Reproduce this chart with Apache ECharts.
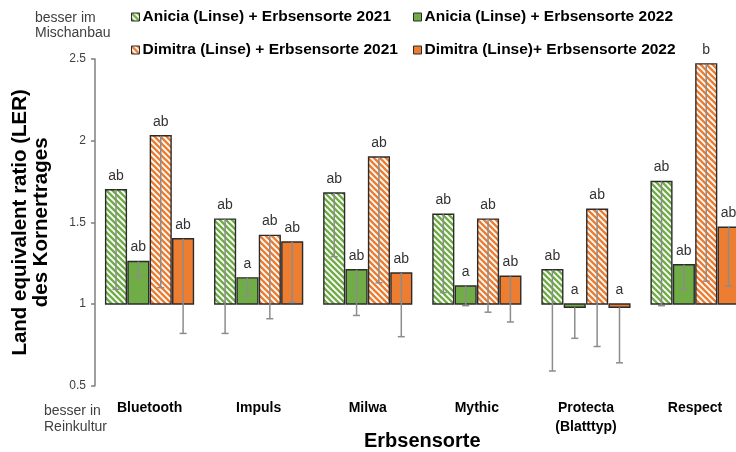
<!DOCTYPE html>
<html><head><meta charset="utf-8">
<script src="https://cdn.jsdelivr.net/npm/echarts@6/dist/echarts.min.js"></script>
<style>html,body{margin:0;padding:0;background:#fff}#c{width:736px;height:452px}</style>
</head><body><div id="c"></div>
<script>
const categories = ['Bluetooth','Impuls','Milwa','Mythic','Protecta\n(Blatttyp)','Respect'];
const seriesNames = ['Anicia (Linse) + Erbsensorte 2021','Anicia (Linse) + Erbsensorte 2022','Dimitra (Linse) + Erbsensorte 2021','Dimitra (Linse)+ Erbsensorte 2022'];
const aniciaLER2021 = [1.70, 1.52, 1.68, 1.55, 1.21, 1.75];
const aniciaLow2021 = [1.09, 0.82, 1.29, 1.07, 0.59, 0.99];
const aniciaSig2021 = ['ab','ab','ab','ab','ab','ab'];
const aniciaLER2022 = [1.26, 1.16, 1.21, 1.11, 0.98, 1.24];
const aniciaLow2022 = [1.17, 1.05, 0.93, 0.99, 0.79, 1.09];
const aniciaSig2022 = ['ab','a','ab','a','a','ab'];
const dimitraLER2021 = [2.03, 1.42, 1.90, 1.52, 1.58, 2.47];
const dimitraLow2021 = [1.10, 0.91, 1.13, 0.95, 0.74, 1.14];
const dimitraSig2021 = ['ab','ab','ab','ab','ab','b'];
const dimitraLER2022 = [1.40, 1.38, 1.19, 1.17, 0.98, 1.47];
const dimitraLow2022 = [0.82, 1.01, 0.80, 0.89, 0.64, 1.11];
const dimitraSig2022 = ['ab','ab','ab','ab','a','ab'];
const yMin = 0.5, yMax = 2.5, yStep = 0.5, baseValue = 1;

const GREEN = '#70AD47', ORANGE = '#ED7D31', BORDER = '#2b2b2b', ERR = '#8c8c8c';

function stripes(color){
  const s = 6, c = document.createElement('canvas');
  c.width = s; c.height = s;
  const g = c.getContext('2d');
  g.fillStyle = '#fff'; g.fillRect(0,0,s,s);
  g.strokeStyle = color; g.lineWidth = 2.4; g.beginPath();
  g.moveTo(-2,-2); g.lineTo(s+2,s+2);
  g.moveTo(-2,s-2); g.lineTo(2,s+2);
  g.moveTo(s-2,-2); g.lineTo(s+2,2);
  g.stroke();
  return {image: c, repeat: 'repeat'};
}
const fills = [stripes(GREEN), GREEN, stripes(ORANGE), ORANGE];
const values = [aniciaLER2021, aniciaLER2022, dimitraLER2021, dimitraLER2022];
const lows = [aniciaLow2021, aniciaLow2022, dimitraLow2021, dimitraLow2022];
const sigs = [aniciaSig2021, aniciaSig2022, dimitraSig2021, dimitraSig2022];

function makeSeries(idx){
  return {
    type: 'custom', name: seriesNames[idx],
    itemStyle: {color: fills[idx], borderColor: BORDER},
    data: values[idx].map((v,i)=>[i, v, lows[idx][i]]),
    encode: {x: 0, y: 1},
    renderItem(params, api){
      const cat = api.value(0), v = api.value(1), lo = api.value(2);
      const bandW = api.size([1,0])[0];
      const barW = bandW*0.19, step = bandW*0.205;
      const base = api.coord([cat, baseValue]);
      const cx = base[0] + (idx-1.5)*step;
      const yv = api.coord([cat, v])[1], yl = api.coord([cat, lo])[1];
      const top = Math.min(yv, base[1]);
      const h = Math.max(Math.abs(yv-base[1]), 1);
      return {type:'group', children:[
        {type:'rect', shape:{x: cx-barW/2, y: top, width: barW, height: h},
         style:{fill: fills[idx], stroke: BORDER, lineWidth: 1.4}},
        {type:'line', shape:{x1: cx, y1: yv, x2: cx, y2: yl}, style:{stroke: ERR, lineWidth: 1.5}},
        {type:'line', shape:{x1: cx-3.5, y1: yl, x2: cx+3.5, y2: yl}, style:{stroke: ERR, lineWidth: 1.5}},
        {type:'text', x: cx, y: top-7, style:{text: sigs[idx][params.dataIndex], fill:'#333',
          font:'14px "Liberation Sans", Arial, sans-serif', align:'center', verticalAlign:'bottom'}}
      ]};
    }
  };
}

const legendPos = [[131,9],[413,9],[131,42],[413,42]];
const chart = echarts.init(document.getElementById('c'));
chart.setOption({
  animation: false,
  backgroundColor: '#fff',
  grid: {left: 95, top: 59, bottom: 66.3, right: -13.6, containLabel: false, outerBoundsMode: 'none'},
  legend: legendPos.map((p,i)=>({
    left: p[0], top: p[1], padding: 0, icon: 'rect', itemWidth: 8, itemHeight: 8, itemGap: 0,
    selectedMode: false,
    textStyle: {fontFamily: '"Liberation Sans", Arial, sans-serif', fontWeight: 'bold', fontSize: 15.5, color: '#000', padding: [0,0,0,-2]},
    data: [{name: seriesNames[i], itemStyle: {color: fills[i], borderColor: BORDER, borderWidth: 1}}]
  })),
  xAxis: {
    type: 'category', data: categories,
    axisLine: {show: false}, axisTick: {show: false},
    axisLabel: {margin: 13, color: '#000', fontWeight: 'bold', fontSize: 14, lineHeight: 19,
      fontFamily: '"Liberation Sans", Arial, sans-serif', interval: 0},
    name: 'Erbsensorte', nameLocation: 'middle', nameGap: 46, nameMoveOverlap: false,
    nameTextStyle: {fontFamily: '"Liberation Sans", Arial, sans-serif', fontWeight: 'bold', fontSize: 20, color: '#000'}
  },
  yAxis: {
    type: 'value', min: yMin, max: yMax, interval: yStep,
    axisLine: {show: true, lineStyle: {color: '#7f7f7f', width: 1.5}},
    axisTick: {show: true, length: 4, lineStyle: {color: '#7f7f7f', width: 1.5}},
    splitLine: {show: false},
    axisLabel: {margin: 9, color: '#404040', fontSize: 12, fontFamily: '"Liberation Sans", Arial, sans-serif',
      formatter: v => String(v)},
    name: 'Land equivalent ratio (LER)\ndes Kornertrages', nameLocation: 'middle', nameRotate: 90, nameGap: 43,
    nameTextStyle: {fontFamily: '"Liberation Sans", Arial, sans-serif', fontWeight: 'bold', fontSize: 20.5, color: '#000', lineHeight: 21}
  },
  graphic: [
    {type:'text', left: 35, top: 11, style:{text:'besser im\nMischanbau', font:'14px "Liberation Sans", Arial, sans-serif', fill:'#404040', lineHeight: 15}},
    {type:'text', left: 44, top: 403, style:{text:'besser in\nReinkultur', font:'14px "Liberation Sans", Arial, sans-serif', fill:'#404040', lineHeight: 16}}
  ],
  series: [0,1,2,3].map(makeSeries)
});
</script></body></html>
